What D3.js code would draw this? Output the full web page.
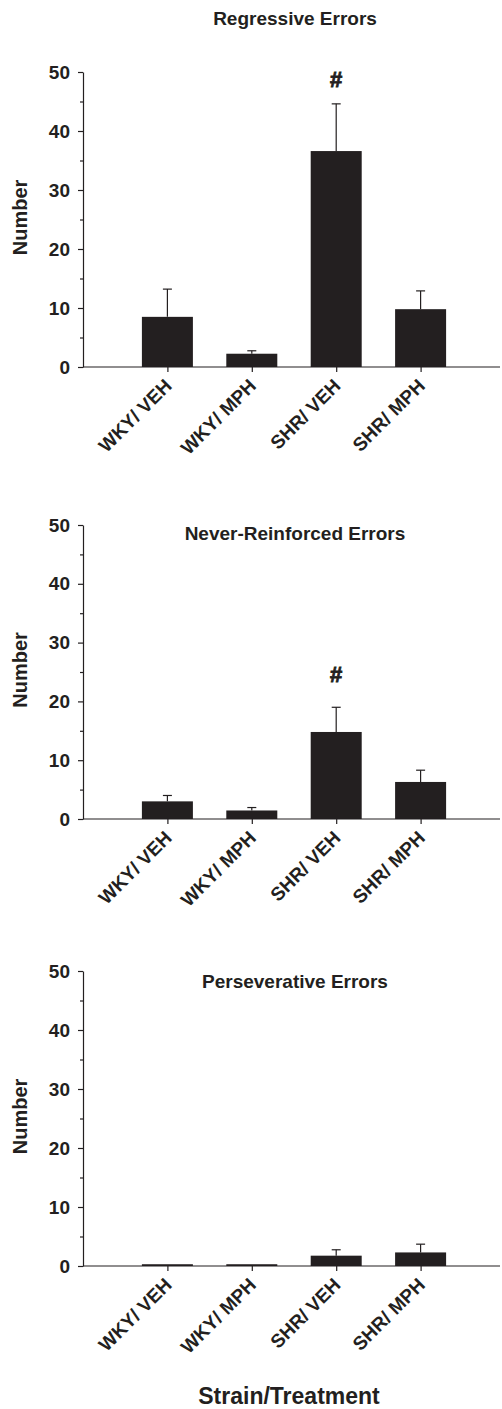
<!DOCTYPE html>
<html lang="en">
<head>
    <meta charset="UTF-8">
    <title>Errors by Strain/Treatment</title>
    <style>
        body { margin: 0; background: #fff; }
        svg { display: block; font-family: "Liberation Sans", Arial, sans-serif; }
        .axis path, .axis line { stroke: #231f20; stroke-width: 1.2px; }
        .axis text { fill: #231f20; font-size: 19px; font-weight: bold; }
        .lbl { fill: #231f20; font-weight: bold; }
        .sig { stroke: #231f20; stroke-width: 0.9px; }
    </style>
</head>
<body>
<svg id="chart" width="502" height="1409"></svg>
<script src="https://d3js.org/d3.v7.min.js"></script>
<script>
// categories
const groups = ["WKY/ VEH", "WKY/ MPH", "SHR/ VEH", "SHR/ MPH"];
const yTicks = [0, 10, 20, 30, 40, 50];
const yMinor = [5, 15, 25, 35, 45];

// means and SEM
const regressiveMean = [8.5, 2.25, 36.6, 9.8];
const regressiveSem  = [4.7, 0.5, 8.0, 3.1];
const neverMean = [3.0, 1.45, 14.8, 6.3];
const neverSem  = [1.0, 0.5, 4.2, 2.0];
const persevMean = [0.3, 0.3, 1.75, 2.3];
const persevSem  = [0, 0, 1.0, 1.4];
const sigMarks = [["", "", "#", ""], ["", "", "#", ""], ["", "", "", ""]];
const titles = ["Regressive Errors", "Never-Reinforced Errors", "Perseverative Errors"];

const means = [regressiveMean, neverMean, persevMean];
const sems = [regressiveSem, neverSem, persevSem];

// layout per panel (pixels)
const panels = [
    { top: 72,  bottom: 367,  titleY: 25,  sigGap: 17 },
    { top: 525, bottom: 819,  titleY: 540, sigGap: 25 },
    { top: 971, bottom: 1266, titleY: 988, sigGap: 20 }
];

const ink = "#231f20";
const axisX = 83, axisEnd = 500, barW = 51;
const svg = d3.select("#chart");

const x = d3.scalePoint().domain(groups).range([axisX, 505]).padding(1);

panels.forEach((p, k) => {
    const y = d3.scaleLinear().domain([0, 50]).range([p.bottom, p.top]);
    const g = svg.append("g");

    // y axis with major + minor ticks
    g.append("g").attr("class", "axis")
        .attr("transform", `translate(${axisX},0)`)
        .call(d3.axisLeft(y).tickValues(yTicks).tickSize(5).tickSizeOuter(0).tickPadding(8));
    g.append("g").attr("class", "axis")
        .attr("transform", `translate(${axisX},0)`)
        .call(d3.axisLeft(y).tickValues(yMinor).tickSize(3).tickFormat(""))
        .select(".domain").remove();

    // bars
    const rows = groups.map((name, i) => ({ name, m: means[k][i], s: sems[k][i], sig: sigMarks[k][i] }));
    g.selectAll("rect.bar").data(rows).join("rect")
        .attr("class", "bar")
        .attr("x", d => x(d.name) - barW / 2)
        .attr("y", d => y(d.m))
        .attr("width", barW)
        .attr("height", d => y(0) - y(d.m))
        .attr("fill", ink);

    // error bars (upper only)
    const eb = g.selectAll("g.err").data(rows.filter(d => d.s > 0)).join("g").attr("class", "err");
    eb.append("line")
        .attr("x1", d => x(d.name)).attr("x2", d => x(d.name))
        .attr("y1", d => y(d.m)).attr("y2", d => y(d.m + d.s))
        .attr("stroke", ink).attr("stroke-width", 1.2);
    eb.append("line")
        .attr("x1", d => x(d.name) - 4.5).attr("x2", d => x(d.name) + 4.5)
        .attr("y1", d => y(d.m + d.s)).attr("y2", d => y(d.m + d.s))
        .attr("stroke", ink).attr("stroke-width", 1.2);

    // significance marks
    g.selectAll("text.sig").data(rows.filter(d => d.sig)).join("text")
        .attr("class", "lbl sig")
        .attr("x", d => x(d.name))
        .attr("y", d => y(d.m + d.s) - p.sigGap)
        .attr("text-anchor", "middle")
        .style("font-size", "22px")
        .text(d => d.sig);

    // x axis
    const xa = g.append("g").attr("class", "axis")
        .attr("transform", `translate(0,${p.bottom})`)
        .call(d3.axisBottom(x).tickSize(5).tickSizeOuter(0));
    xa.select(".domain").remove();
    xa.selectAll(".tick text")
        .attr("text-anchor", "end")
        .attr("dy", null)
        .attr("y", null)
        .attr("transform", "translate(5,20) rotate(-45)");
    g.append("line")
        .attr("x1", axisX).attr("x2", axisEnd)
        .attr("y1", p.bottom).attr("y2", p.bottom)
        .attr("stroke", ink).attr("stroke-width", 1.2);

    // title
    g.append("text").attr("class", "lbl")
        .attr("x", 295).attr("y", p.titleY)
        .attr("text-anchor", "middle")
        .style("font-size", "19px")
        .text(titles[k]);

    // y label
    g.append("text").attr("class", "lbl")
        .attr("transform", `translate(27,${(p.top + p.bottom) / 2 - 2}) rotate(-90)`)
        .attr("text-anchor", "middle")
        .style("font-size", "20px")
        .text("Number");
});

svg.append("text").attr("class", "lbl")
    .attr("x", 289).attr("y", 1404)
    .attr("text-anchor", "middle")
    .style("font-size", "23px")
    .text("Strain/Treatment");
</script>
</body>
</html>
